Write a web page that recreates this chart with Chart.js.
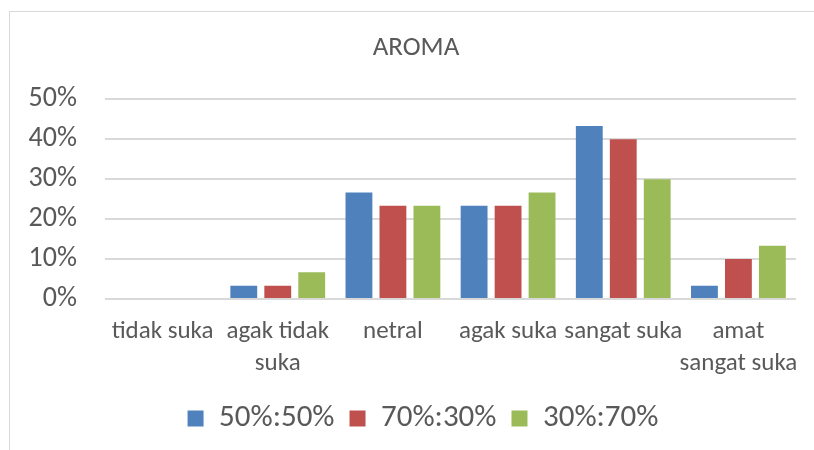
<!DOCTYPE html>
<html>
<head>
<meta charset="utf-8">
<script src="https://cdn.jsdelivr.net/npm/chart.js@4"></script>
<style>
  html, body { margin: 0; padding: 0; background: #fff; }
  #wrap { position: relative; width: 814px; height: 450px; }
  #frame {
    position: absolute; left: 9px; top: 11px; right: 0; bottom: 0;
    border-top: 1px solid #d9d9d9; border-left: 1px solid #d9d9d9;
  }
  canvas { position: absolute; left: 0; top: 0; }
</style>
</head>
<body>
<div id="wrap">
  <div id="frame"></div>
  <canvas id="aromaChart" width="814" height="450"></canvas>
</div>
<script>
var categories = [
  "tidak suka",
  ["agak tidak", "suka"],
  "netral",
  "agak suka",
  "sangat suka",
  ["amat", "sangat suka"]
];
var seriesNames = ["50%:50%", "70%:30%", "30%:70%"];
var values5050 = [0, 3.33, 26.67, 23.33, 43.33, 3.33];
var values7030 = [0, 3.33, 23.33, 23.33, 40.0, 10.0];
var values3070 = [0, 6.67, 23.33, 26.67, 30.0, 13.33];
var yTicks = [0, 10, 20, 30, 40, 50];

var fontStack = "Carlito, 'Liberation Sans Narrow', 'DejaVu Sans Condensed', sans-serif";
var textColor = "#595959";

// title and legend sit a bit right of the plot centre in the original
var shiftBoxes = {
  id: "shiftBoxes",
  afterLayout: function (chart) {
    if (chart.titleBlock) {
      chart.titleBlock.left += 13;
      chart.titleBlock.right += 13;
    }
    if (chart.legend) {
      chart.legend.left += 20;
      chart.legend.right += 20;
    }
  }
};

var ctx = document.getElementById("aromaChart").getContext("2d");
var aromaChart = new Chart(ctx, {
  type: "bar",
  data: {
    labels: categories,
    datasets: [
      { label: seriesNames[0], data: values5050, backgroundColor: "#4f81bd" },
      { label: seriesNames[1], data: values7030, backgroundColor: "#c0504d" },
      { label: seriesNames[2], data: values3070, backgroundColor: "#9bbb59" }
    ]
  },
  options: {
    responsive: false,
    animation: false,
    devicePixelRatio: 1,
    layout: { padding: { left: 10, right: 18, top: 0, bottom: 6 } },
    datasets: {
      bar: { categoryPercentage: 0.885, barPercentage: 0.79 }
    },
    scales: {
      x: {
        afterFit: function (scale) { scale.height = 89; },
        grid: { display: false },
        border: { display: false },
        ticks: {
          color: textColor,
          font: { family: fontStack, size: 25, lineHeight: 1.28 },
          padding: 9,
          maxRotation: 0,
          autoSkip: false
        }
      },
      y: {
        min: yTicks[0],
        max: yTicks[yTicks.length - 1],
        afterFit: function (scale) { scale.width = 95; },
        grid: { color: "#d9d9d9", lineWidth: 2, drawTicks: false },
        border: { display: false },
        ticks: {
          color: textColor,
          font: { family: fontStack, size: 28 },
          padding: 28,
          autoSkip: false,
          stepSize: yTicks[1] - yTicks[0],
          callback: function (v) { return v + "%"; }
        }
      }
    },
    plugins: {
      title: {
        display: true,
        text: "AROMA",
        color: textColor,
        font: { family: fontStack, size: 27, weight: "normal", lineHeight: 1.2 },
        padding: { top: 32, bottom: 35 }
      },
      legend: {
        position: "bottom",
        labels: {
          color: textColor,
          font: { family: fontStack, size: 31 },
          boxWidth: 16,
          boxHeight: 16,
          padding: 15
        }
      },
      tooltip: { enabled: false }
    }
  },
  plugins: [shiftBoxes]
});
</script>
</body>
</html>
